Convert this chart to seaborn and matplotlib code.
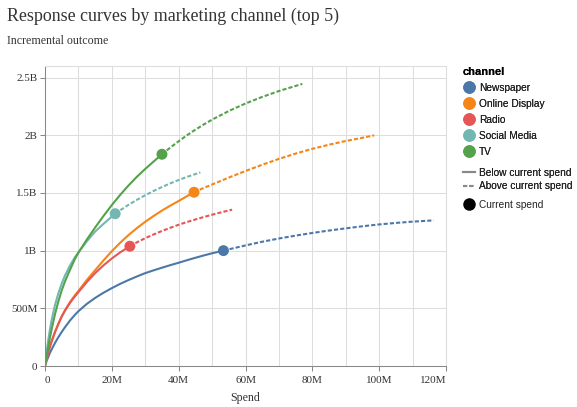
import pandas as pd
import matplotlib
matplotlib.use('Agg')
import matplotlib.pyplot as plt
from matplotlib.lines import Line2D
import seaborn as sns

plt.rcParams['font.family'] = 'Liberation Serif'

# channel names and colours (vega tableau10)
channels = ['Newspaper', 'Online Display', 'Radio', 'Social Media', 'TV']
colors = ['#4c78a8', '#f58518', '#e45756', '#72b7b2', '#54a24b']

# spend in $M, outcome in M
newspaper_below_spend = [0, 0.5, 1, 1.5, 2, 3, 4, 5, 6, 7.5, 9, 10, 12.5, 15, 17.5, 20, 22.5, 25,
                         27.5, 30, 32.5, 35, 37.5, 40, 42.5, 45, 47.5, 50, 53.4]
newspaper_below_value = [0, 45, 80, 115, 145, 200, 250, 295, 337, 395, 445, 475, 538, 590, 635, 675,
                         712, 745, 776, 805, 829, 852, 874, 895, 917, 938, 958, 977, 1000]
newspaper_above_spend = [53.4, 55, 60, 65, 70, 75, 80, 85, 90, 95, 100, 105, 110, 116.3]
newspaper_above_value = [1000, 1011, 1045, 1077, 1105, 1130, 1153, 1174, 1193, 1211, 1227, 1240,
                         1251, 1262]

display_below_spend = [0, 0.5, 1, 1.5, 2, 3, 4, 5, 6, 7.5, 9, 10, 12.5, 15, 17.5, 20, 22.5, 25,
                       27.5, 30, 32.5, 35, 37.5, 40, 42.5, 44.6]
display_below_value = [0, 65, 120, 170, 215, 295, 365, 430, 485, 555, 615, 650, 745, 830, 915, 995,
                       1068, 1135, 1195, 1250, 1300, 1347, 1390, 1430, 1472, 1506]
display_above_spend = [44.6, 47.5, 50, 55, 60, 65, 70, 75, 80, 85, 90, 95, 98.5]
display_above_value = [1506, 1543, 1573, 1633, 1690, 1744, 1795, 1841, 1882, 1918, 1950, 1978, 1999]

radio_below_spend = [0, 0.5, 1, 1.5, 2, 3, 4, 5, 6, 7.5, 9, 10, 12.5, 15, 17.5, 20, 22.5, 25.4]
radio_below_value = [0, 65, 120, 170, 215, 295, 365, 428, 480, 548, 605, 640, 727, 805, 872, 932,
                     985, 1038]
radio_above_spend = [25.4, 27.5, 30, 32.5, 35, 37.5, 40, 42.5, 45, 47.5, 50, 52.5, 56]
radio_above_value = [1038, 1072, 1108, 1140, 1170, 1198, 1224, 1248, 1270, 1291, 1311, 1330, 1355]

social_below_spend = [0, 0.5, 1, 1.5, 2, 3, 4, 5, 6, 7.5, 9, 10, 12.5, 15, 17.5, 21]
social_below_value = [0, 125, 230, 320, 400, 530, 630, 715, 785, 872, 945, 985, 1080, 1165, 1232,
                      1320]
social_above_spend = [21, 22.5, 25, 27.5, 30, 32.5, 35, 37.5, 40, 42.5, 46.5]
social_above_value = [1320, 1350, 1397, 1440, 1480, 1517, 1551, 1583, 1612, 1639, 1678]

tv_below_spend = [0, 0.5, 1, 1.5, 2, 3, 4, 5, 6, 7.5, 9, 10, 12.5, 15, 17.5, 20, 22.5, 25, 27.5,
                  30, 32.5, 35]
tv_below_value = [0, 90, 170, 248, 320, 450, 560, 655, 735, 835, 930, 982, 1095, 1200, 1300, 1395,
                  1483, 1565, 1640, 1708, 1772, 1835]
tv_above_spend = [35, 37.5, 40, 42.5, 45, 47.5, 50, 55, 60, 65, 70, 77]
tv_above_value = [1835, 1893, 1948, 2000, 2048, 2093, 2135, 2210, 2275, 2332, 2383, 2445]

current_spend = [53.4, 44.6, 25.4, 21.0, 35.0]
current_value = [1000, 1506, 1038, 1320, 1835]

x_ticks = [0, 20, 40, 60, 80, 100, 120]
x_tick_labels = ['0', '20M', '40M', '60M', '80M', '100M', '120M']
y_ticks = [0, 500, 1000, 1500, 2000, 2500]
y_tick_labels = ['0', '500M', '1B', '1.5B', '2B', '2.5B']

curve_parts = [
    ('Newspaper', newspaper_below_spend, newspaper_below_value, newspaper_above_spend, newspaper_above_value),
    ('Online Display', display_below_spend, display_below_value, display_above_spend, display_above_value),
    ('Radio', radio_below_spend, radio_below_value, radio_above_spend, radio_above_value),
    ('Social Media', social_below_spend, social_below_value, social_above_spend, social_above_value),
    ('TV', tv_below_spend, tv_below_value, tv_above_spend, tv_above_value),
]

rows = []
for name, bs, bv, as_, av in curve_parts:
    for s, v in zip(bs, bv):
        rows.append((name, 'Below current spend', s, v))
    for s, v in zip(as_, av):
        rows.append((name, 'Above current spend', s, v))
curves = pd.DataFrame(rows, columns=['channel', 'segment', 'spend', 'value'])
current = pd.DataFrame({'channel': channels, 'spend': current_spend, 'value': current_value})

sans = 'Liberation Sans'
text_col = '#333333'

fig = plt.figure(figsize=(5.77, 4.07), dpi=100)
ax = fig.add_axes([45 / 577, 1 - 366 / 407, (446 - 45) / 577, (366 - 66) / 407])

sns.lineplot(data=curves, x='spend', y='value', hue='channel', style='segment',
             hue_order=channels, palette=colors,
             style_order=['Below current spend', 'Above current spend'],
             dashes={'Below current spend': '', 'Above current spend': (2, 1)},
             sort=False, estimator=None, linewidth=1.5, legend=False, ax=ax)
sns.scatterplot(data=current, x='spend', y='value', hue='channel', hue_order=channels,
                palette=colors, s=62, linewidth=0, legend=False, ax=ax, zorder=4)

ax.set_xlim(0, 120)
ax.set_ylim(0, 2600)
ax.set_xticks(x_ticks, x_tick_labels)
ax.set_xticks(range(10, 120, 20), minor=True)
ax.set_yticks(y_ticks, y_tick_labels)
ax.grid(True, which='both', color='#dddddd', linewidth=0.75)
ax.set_axisbelow(True)
for side in ['top', 'right']:
    ax.spines[side].set_color('#dddddd')
    ax.spines[side].set_linewidth(0.75)
for side in ['left', 'bottom']:
    ax.spines[side].set_color('#888888')
    ax.spines[side].set_linewidth(0.75)
ax.tick_params(which='major', length=3.6, width=0.75, color='#888888',
               labelsize=8, labelcolor=text_col)
ax.tick_params(axis='x', pad=3.5)
ax.tick_params(axis='y', pad=2)
ax.tick_params(which='minor', length=0)
ax.set_xlabel('Spend', fontsize=8.6, color=text_col, labelpad=5.5)
ax.set_ylabel('')

fig.text(7 / 577, 1 - 21 / 407, 'Response curves by marketing channel (top 5)',
         fontsize=12.85, color=text_col, va='baseline')
fig.text(7 / 577, 1 - 44 / 407, 'Incremental outcome', fontsize=8.6, color=text_col,
         va='baseline')

# legends
leg_kw = dict(loc='upper left', frameon=False, prop={'family': sans, 'size': 7.3},
              handletextpad=0.4, borderaxespad=0, borderpad=0,
              handlelength=1.2, labelcolor='#222222')
color_handles = [Line2D([], [], marker='o', linestyle='none', color=c, markersize=8)
                 for c in colors]
leg1 = fig.legend(color_handles, channels, bbox_to_anchor=(463 / 577, 1 - 67 / 407),
                  title='channel', alignment='left', labelspacing=0.59,
                  title_fontproperties={'family': sans, 'size': 8, 'weight': 'bold'}, **leg_kw)
style_handles = [Line2D([], [], color='#888888', linewidth=1.5),
                 Line2D([], [], color='#888888', linewidth=1.5, dashes=(2, 1))]
leg2 = fig.legend(style_handles, ['Below current spend', 'Above current spend'],
                  bbox_to_anchor=(463 / 577, 1 - 168 / 407), labelspacing=0.33, **leg_kw)
spend_handle = [Line2D([], [], marker='o', linestyle='none', color='black', markersize=8)]
leg3 = fig.legend(spend_handle, ['Current spend'], bbox_to_anchor=(463 / 577, 1 - 200 / 407),
                  **leg_kw)
fig.add_artist(leg1)
fig.add_artist(leg2)

# flush the outer x tick labels like vega does
xlabels = ax.get_xticklabels()
xlabels[0].set_ha('left')
xlabels[-1].set_ha('right')

fig.savefig('out.png', dpi=100)
